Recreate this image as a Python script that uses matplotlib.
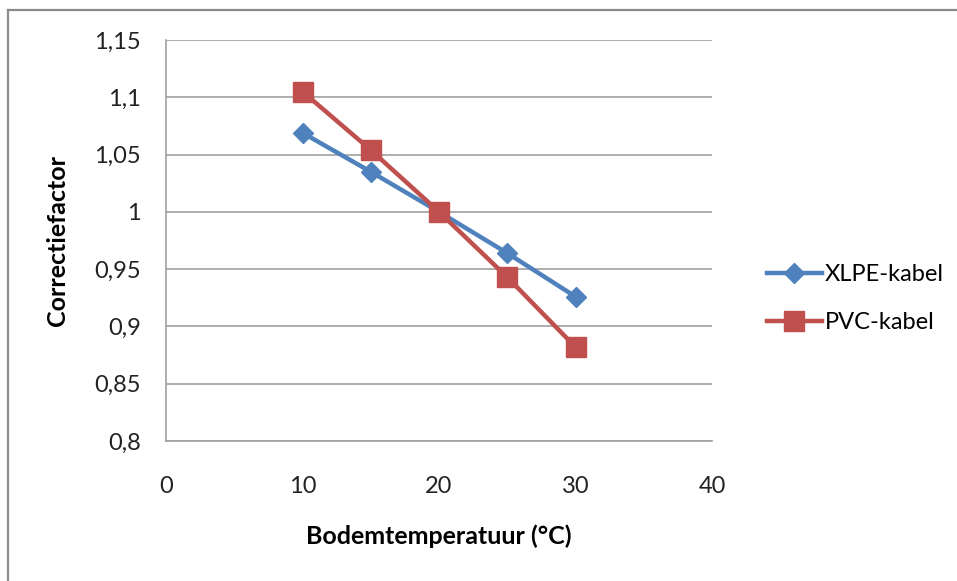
import matplotlib.pyplot as plt
from matplotlib.lines import Line2D

temps = [10, 15, 20, 25, 30]
xlpe = [1.069, 1.035, 1.0, 0.964, 0.926]
pvc = [1.105, 1.054, 1.0, 0.943, 0.882]

x_ticks = [0, 10, 20, 30, 40]
y_ticks = [0.8, 0.85, 0.9, 0.95, 1.0, 1.05, 1.1, 1.15]
y_labels = ["0,8", "0,85", "0,9", "0,95", "1", "1,05", "1,1", "1,15"]

plt.rcParams['font.family'] = ['Lato', 'DejaVu Sans']

fig = plt.figure(figsize=(9.57, 5.81), dpi=100)
ax = fig.add_axes([166/957, 1-441/581, (712-166)/957, (441-40)/581])

# outer chart frame (top and left only visible)
fig.add_artist(Line2D([8/957, 1], [1-10/581, 1-10/581], color='#8c8c8c', lw=1.6))
fig.add_artist(Line2D([8/957, 8/957], [0, 1-10/581], color='#8c8c8c', lw=1.6))

ax.plot(temps, xlpe, color='#4F81BD', lw=3.2, marker='D', ms=10.5, label='XLPE-kabel', zorder=3)
ax.plot(temps, pvc, color='#C0504D', lw=3.2, marker='s', ms=14, label='PVC-kabel', zorder=4)

ax.set_xlim(0, 40)
ax.set_ylim(0.8, 1.15)
ax.set_xticks(x_ticks)
ax.set_yticks(y_ticks)
ax.set_yticklabels(y_labels)
ax.tick_params(length=0, labelsize=17, colors='#222222')
ax.tick_params(axis='x', pad=25)
ax.tick_params(axis='y', pad=18)

ax.grid(axis='y', color='#a0a0a0', lw=1.2)
ax.set_axisbelow(True)
for s in ['top', 'right']:
    ax.spines[s].set_visible(False)
for s in ['left', 'bottom']:
    ax.spines[s].set_color('#a0a0a0')
    ax.spines[s].set_linewidth(1.2)

ax.set_xlabel('Bodemtemperatuur (°C)', fontsize=18, fontweight='bold', labelpad=20)
ax.set_ylabel('Correctiefactor', fontsize=18, fontweight='bold', labelpad=18)

fig.legend(loc='upper left', bbox_to_anchor=(746/957, 1-243/581), frameon=False,
           fontsize=17, handlelength=2.3, handletextpad=0.15, labelspacing=1.15)

fig.savefig('out.png', dpi=100)
